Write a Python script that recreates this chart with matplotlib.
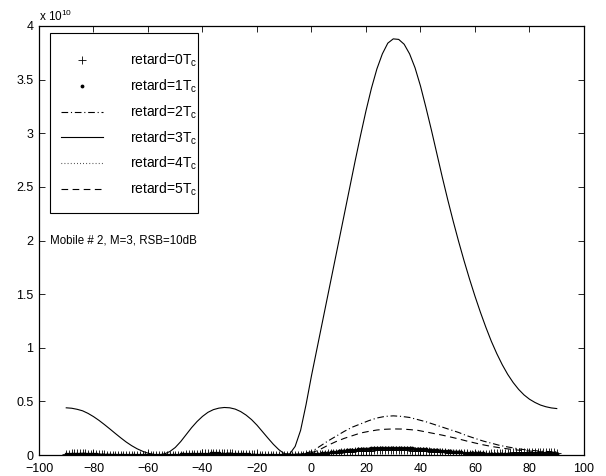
import numpy as np
import matplotlib
matplotlib.use("Agg")
import matplotlib.pyplot as plt
from matplotlib.patches import Rectangle

plt.rcParams['font.family'] = ['Liberation Sans', 'DejaVu Sans']
plt.rcParams['mathtext.fontset'] = 'custom'
plt.rcParams['mathtext.rm'] = 'Liberation Sans'
plt.rcParams['mathtext.it'] = 'Liberation Sans:italic'

# ---- data (values in units of 1e10) ----
angles_fine = np.arange(-90, 91, 1)     # degrees, 1-degree grid (marker series)
angles_mid = np.arange(-90, 91, 2)      # degrees, 2-degree grid (main curve)
angles = np.arange(-90, 91, 3)          # degrees, 3-degree grid (small curves)

retard0 = [  # '+' markers, x = -90..90 step 1
    0.010, 0.012, 0.015, 0.018, 0.020, 0.020, 0.018, 0.015, 0.012, 0.010,
    0.008, 0.007, 0.006, 0.005, 0.005, 0.004, 0.004, 0.004, 0.003, 0.003,
    0.003, 0.003, 0.002, 0.002, 0.002, 0.002, 0.002, 0.002, 0.002, 0.002,
    0.002, 0.002, 0.002, 0.002, 0.002, 0.002, 0.002, 0.002, 0.002, 0.002,
    0.003, 0.003, 0.004, 0.004, 0.005, 0.006, 0.007, 0.008, 0.010, 0.012,
    0.014, 0.015, 0.016, 0.017, 0.018, 0.018, 0.018, 0.018, 0.017, 0.016,
    0.015, 0.014, 0.013, 0.012, 0.010, 0.009, 0.008, 0.007, 0.006, 0.005,
    0.004, 0.004, 0.003, 0.003, 0.003, 0.002, 0.002, 0.002, 0.002, 0.002,
    0.002, 0.002, 0.002, 0.002, 0.003, 0.003, 0.004, 0.004, 0.005, 0.006,
    0.007, 0.008, 0.009, 0.010, 0.012, 0.013, 0.015, 0.016, 0.018, 0.020,
    0.022, 0.024, 0.026, 0.028, 0.030, 0.032, 0.033, 0.035, 0.036, 0.038,
    0.039, 0.040, 0.041, 0.042, 0.043, 0.044, 0.044, 0.045, 0.045, 0.045,
    0.045, 0.045, 0.045, 0.044, 0.044, 0.043, 0.042, 0.041, 0.040, 0.039,
    0.038, 0.036, 0.035, 0.033, 0.032, 0.030, 0.028, 0.027, 0.025, 0.024,
    0.022, 0.021, 0.019, 0.018, 0.017, 0.016, 0.015, 0.014, 0.013, 0.013,
    0.012, 0.012, 0.012, 0.012, 0.013, 0.013, 0.014, 0.015, 0.016, 0.017,
    0.018, 0.020, 0.021, 0.022, 0.024, 0.025, 0.026, 0.027, 0.028, 0.029,
    0.030, 0.030, 0.030, 0.030, 0.029, 0.028, 0.027, 0.026, 0.025, 0.024,
    0.023,
]

retard1 = [  # '.' markers, x = -90..90 step 1
    0.006, 0.007, 0.008, 0.009, 0.010, 0.010, 0.009, 0.008, 0.007, 0.006,
    0.005, 0.005, 0.004, 0.004, 0.004, 0.003, 0.003, 0.003, 0.003, 0.003,
    0.003, 0.003, 0.003, 0.003, 0.003, 0.003, 0.003, 0.003, 0.003, 0.003,
    0.003, 0.003, 0.003, 0.003, 0.003, 0.003, 0.003, 0.003, 0.003, 0.003,
    0.004, 0.004, 0.005, 0.005, 0.006, 0.007, 0.008, 0.009, 0.010, 0.011,
    0.012, 0.013, 0.013, 0.014, 0.014, 0.014, 0.014, 0.013, 0.013, 0.012,
    0.011, 0.010, 0.009, 0.008, 0.007, 0.006, 0.005, 0.005, 0.004, 0.004,
    0.004, 0.003, 0.003, 0.003, 0.003, 0.003, 0.003, 0.003, 0.003, 0.003,
    0.003, 0.003, 0.003, 0.003, 0.003, 0.004, 0.004, 0.004, 0.005, 0.005,
    0.006, 0.008, 0.010, 0.012, 0.015, 0.018, 0.021, 0.024, 0.027, 0.030,
    0.033, 0.036, 0.039, 0.042, 0.045, 0.047, 0.050, 0.052, 0.054, 0.056,
    0.058, 0.059, 0.061, 0.062, 0.063, 0.064, 0.065, 0.065, 0.066, 0.066,
    0.066, 0.066, 0.065, 0.065, 0.064, 0.063, 0.062, 0.061, 0.059, 0.058,
    0.056, 0.054, 0.052, 0.050, 0.048, 0.046, 0.044, 0.041, 0.039, 0.037,
    0.035, 0.033, 0.031, 0.029, 0.027, 0.025, 0.023, 0.022, 0.020, 0.019,
    0.017, 0.016, 0.015, 0.014, 0.013, 0.012, 0.011, 0.010, 0.010, 0.009,
    0.009, 0.008, 0.008, 0.008, 0.007, 0.007, 0.007, 0.007, 0.006, 0.006,
    0.006, 0.006, 0.006, 0.006, 0.006, 0.006, 0.006, 0.006, 0.006, 0.006,
    0.006,
]

retard2 = [  # dash-dot, x = -90..90 step 3
    0.012, 0.015, 0.016, 0.014, 0.010, 0.007, 0.004, 0.002, 0.001, 0.001,
    0.002, 0.003, 0.002, 0.001, 0.002, 0.005, 0.009, 0.013, 0.016, 0.018,
    0.017, 0.014, 0.010, 0.006, 0.003, 0.001, 0.000, 0.002, 0.006, 0.015,
    0.030, 0.080, 0.130, 0.175, 0.220, 0.260, 0.290, 0.320, 0.345, 0.360,
    0.365, 0.360, 0.350, 0.330, 0.310, 0.285, 0.260, 0.235, 0.210, 0.180,
    0.155, 0.130, 0.110, 0.090, 0.075, 0.062, 0.050, 0.042, 0.036, 0.032,
    0.030,
]

retard3 = [  # solid, x = -90..90 step 2
    0.440, 0.436, 0.426, 0.412, 0.388, 0.358, 0.323, 0.284, 0.243, 0.201,
    0.160, 0.121, 0.087, 0.058, 0.035, 0.017, 0.005, 0.001, 0.010, 0.032,
    0.070, 0.125, 0.190, 0.255, 0.312, 0.360, 0.398, 0.423, 0.437, 0.443,
    0.440, 0.428, 0.405, 0.372, 0.330, 0.278, 0.218, 0.158, 0.100, 0.050,
    0.012, 0.010, 0.080, 0.230, 0.470, 0.740, 0.990, 1.240, 1.490, 1.740,
    1.990, 2.240, 2.490, 2.740, 2.980, 3.210, 3.420, 3.600, 3.740, 3.840,
    3.880, 3.875, 3.830, 3.740, 3.610, 3.440, 3.240, 3.030, 2.810, 2.590,
    2.380, 2.180, 1.990, 1.810, 1.640, 1.480, 1.330, 1.190, 1.060, 0.945,
    0.842, 0.752, 0.676, 0.612, 0.560, 0.520, 0.490, 0.466, 0.450, 0.439,
    0.433,
]

retard4 = [  # dotted, x = -90..90 step 3
    0.010, 0.012, 0.012, 0.010, 0.008, 0.006, 0.005, 0.004, 0.003, 0.003,
    0.003, 0.003, 0.004, 0.005, 0.006, 0.008, 0.010, 0.011, 0.012, 0.012,
    0.011, 0.010, 0.008, 0.006, 0.005, 0.004, 0.004, 0.005, 0.007, 0.009,
    0.012, 0.020, 0.030, 0.040, 0.050, 0.057, 0.063, 0.067, 0.070, 0.072,
    0.072, 0.071, 0.069, 0.066, 0.062, 0.057, 0.052, 0.046, 0.040, 0.035,
    0.030, 0.026, 0.022, 0.019, 0.017, 0.015, 0.014, 0.013, 0.012, 0.012,
    0.012,
]

retard5 = [  # dashed, x = -90..90 step 3
    0.008, 0.010, 0.011, 0.010, 0.008, 0.005, 0.003, 0.002, 0.001, 0.001,
    0.001, 0.002, 0.002, 0.001, 0.002, 0.004, 0.007, 0.009, 0.011, 0.012,
    0.011, 0.009, 0.007, 0.004, 0.002, 0.001, 0.000, 0.001, 0.004, 0.010,
    0.020, 0.050, 0.090, 0.125, 0.155, 0.180, 0.205, 0.220, 0.233, 0.240,
    0.243, 0.242, 0.237, 0.230, 0.215, 0.200, 0.185, 0.168, 0.150, 0.130,
    0.112, 0.095, 0.080, 0.068, 0.057, 0.048, 0.040, 0.035, 0.030, 0.027,
    0.025,
]

labels = [r'retard=0T$_{\mathrm{c}}$', r'retard=1T$_{\mathrm{c}}$',
          r'retard=2T$_{\mathrm{c}}$', r'retard=3T$_{\mathrm{c}}$',
          r'retard=4T$_{\mathrm{c}}$', r'retard=5T$_{\mathrm{c}}$']
xticks = [-100, -80, -60, -40, -20, 0, 20, 40, 60, 80, 100]
yticks = [0, 0.5, 1, 1.5, 2, 2.5, 3, 3.5, 4]
annotation = 'Mobile # 2, M=3, RSB=10dB'

# ---- figure ----
W, H = 606, 476
fig = plt.figure(figsize=(W/100, H/100), dpi=100)
AX_L, AX_R, AX_T, AX_B = 39, 584, 26, 455
ax = fig.add_axes([AX_L/W, 1-AX_B/H, (AX_R-AX_L)/W, (AX_B-AX_T)/H])

def ax_frac(px, py):
    return (px-AX_L)/(AX_R-AX_L), (AX_B-py)/(AX_B-AX_T)

lw = 0.8
ax.plot(angles_fine, retard0, linestyle='none', marker='+', color='k',
        markersize=6, markeredgewidth=0.6, label=labels[0])
ax.plot(angles_fine, retard1, linestyle='none', marker='.', color='k',
        markersize=3.5, label=labels[1])
ax.plot(angles, retard2, color='k', lw=lw, dashes=(6, 2.5, 1, 2.5), label=labels[2])
ax.plot(angles_mid, retard3, color='k', lw=lw, linestyle='-', label=labels[3])
ax.plot(angles, retard4, color='k', lw=lw, dashes=(0.6, 2.2), label=labels[4])
ax.plot(angles, retard5, color='k', lw=lw, dashes=(6, 4), label=labels[5])

ax.set_xlim(-100, 100)
ax.set_ylim(0, 4)
ax.set_xticks(xticks)
ax.set_yticks(yticks)
ax.set_yticklabels(['%g' % t for t in yticks])
ax.tick_params(direction='in', top=True, right=True, length=4, width=0.6,
               labelsize=9)
ax.tick_params(axis='x', pad=6)
ax.tick_params(axis='y', pad=4)
for s in ax.spines.values():
    s.set_linewidth(0.9)

ax.text(0, 1.005, r'x 10$^{10}$', transform=ax.transAxes, fontsize=8.5,
        ha='left', va='bottom')

ax.text(-96, 2.0, annotation, fontsize=8.3, ha='left', va='center')

# legend (frame drawn separately to match the box shape)
x0, y0 = ax_frac(50, 213)
x1, y1 = ax_frac(198, 33)
ax.add_patch(Rectangle((x0, y0), x1-x0, y1-y0, transform=ax.transAxes,
                       facecolor='white', edgecolor='k', lw=0.8, zorder=4))
lx, ly = ax_frac(61, 52)
leg = ax.legend(loc='upper left', bbox_to_anchor=(lx, ly),
                borderaxespad=0, borderpad=0, numpoints=1, fontsize=10,
                frameon=False, handlelength=3.0, handletextpad=2.0,
                labelspacing=0.6)
leg.set_zorder(5)

fig.savefig('out.png', dpi=100)
